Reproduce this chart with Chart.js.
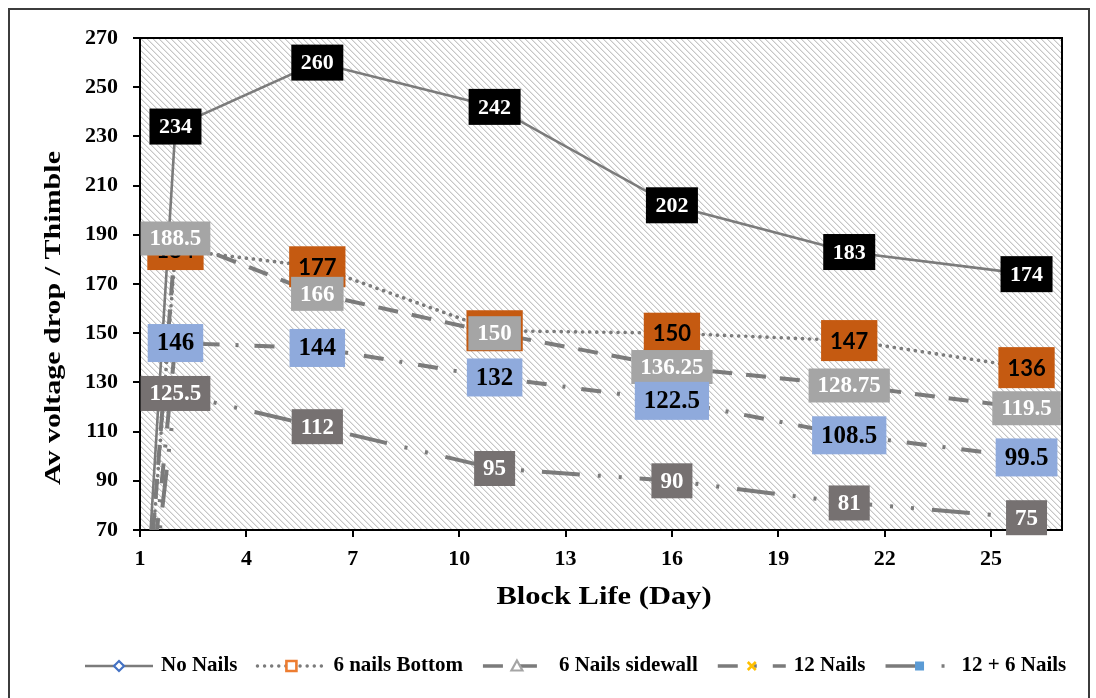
<!DOCTYPE html>
<html>
<head>
<meta charset="utf-8">
<script src="https://cdn.jsdelivr.net/npm/chart.js@4.4.1/dist/chart.umd.min.js"></script>
<style>
  html, body { margin: 0; padding: 0; background: #fff; }
  canvas { display: block; }
</style>
</head>
<body>
<canvas id="chart" width="1096" height="698"></canvas>
<script>
// block life in days, av voltage drop per thimble
const days = [1, 2, 6, 11, 16, 21, 26];
const noNails = [0, 234, 260, 242, 202, 183, 174];
const nailsBottom = [0, 184, 177, 151, 150, 147, 136];
const nailsSidewall = [0, 188.5, 166, 150, 136.25, 128.75, 119.5];
const nails12 = [0, 146, 144, 132, 122.5, 108.5, 99.5];
const nails12and6 = [0, 125.5, 112, 95, 90, 81, 75];
const seriesNames = ['No Nails', '6 nails Bottom', '6 Nails sidewall', '12 Nails', '12 + 6 Nails'];
const xTicks = [1, 4, 7, 10, 13, 16, 19, 22, 25];
const yTicks = [70, 90, 110, 130, 150, 170, 190, 210, 230, 250, 270];

const serif = '"Liberation Serif", "Times New Roman", serif';

// look of each series: line, legend marker, data label box
const looks = [
  {dash: [], width: 2.6, cap: 'butt', marker: 'diamond', mColor: '#4472C4',
   bg: '#000000', fg: '#ffffff', font: 'bold 22px ' + serif, padX: 9.5, h: 36},
  {dash: [0.1, 7], width: 3.6, cap: 'round', marker: 'square', mColor: '#ED7D31',
   bg: '#C55A11', fg: '#000000', font: 'bold 22px Lato, "Open Sans", sans-serif', padX: 9, h: 41},
  {dash: [20, 14], width: 4, cap: 'butt', marker: 'triangle', mColor: '#A5A5A5',
   bg: '#A5A5A5', fg: '#ffffff', font: 'bold 23px ' + serif, padX: 9, h: 34},
  {dash: [20, 16, 3, 16], width: 4, cap: 'butt', marker: 'cross', mColor: '#FFC000',
   bg: '#8FAADC', fg: '#000000', font: 'bold 25px ' + serif, padX: 9, h: 38},
  {dash: [38, 18, 3, 18, 3, 18], width: 4, cap: 'butt', marker: 'filled', mColor: '#5B9BD5',
   bg: '#767171', fg: '#ffffff', font: 'bold 23px ' + serif, padX: 9, h: 35}
];

const allSeries = [noNails, nailsBottom, nailsSidewall, nails12, nails12and6];

function makeHatch() {
  const c = document.createElement('canvas');
  c.width = 6; c.height = 6;
  const g = c.getContext('2d');
  g.fillStyle = '#ffffff';
  g.fillRect(0, 0, 6, 6);
  for (let i = 0; i < 6; i++) {
    g.fillStyle = '#c6c6c6';
    g.fillRect(i, i, 1, 1);
    g.fillStyle = '#e6e6e6';
    g.fillRect((i + 1) % 6, i, 1, 1);
  }
  return c;
}
const hatch = makeHatch();

function drawMarker(ctx, type, x, y, color) {
  ctx.save();
  ctx.strokeStyle = color;
  ctx.fillStyle = '#ffffff';
  ctx.setLineDash([]);
  ctx.lineWidth = 2.2;
  ctx.beginPath();
  if (type === 'diamond') {
    ctx.moveTo(x, y - 5); ctx.lineTo(x + 5, y); ctx.lineTo(x, y + 5); ctx.lineTo(x - 5, y); ctx.closePath();
    ctx.fill(); ctx.stroke();
  } else if (type === 'square') {
    ctx.lineWidth = 2.6;
    ctx.rect(x - 5, y - 5, 10, 10);
    ctx.fill(); ctx.stroke();
  } else if (type === 'triangle') {
    ctx.moveTo(x, y - 5.5); ctx.lineTo(x + 5.5, y + 4.5); ctx.lineTo(x - 5.5, y + 4.5); ctx.closePath();
    ctx.fill(); ctx.stroke();
  } else if (type === 'cross') {
    ctx.lineWidth = 2.6;
    ctx.moveTo(x - 4, y - 4); ctx.lineTo(x + 4, y + 4);
    ctx.moveTo(x + 4, y - 4); ctx.lineTo(x - 4, y + 4);
    ctx.stroke();
  } else {
    ctx.fillStyle = color;
    ctx.fillRect(x - 4.5, y - 4.5, 9, 9);
  }
  ctx.restore();
}

function stretchedText(ctx, text, x, y, font, sx, rot) {
  ctx.save();
  ctx.translate(x, y);
  ctx.rotate(rot);
  ctx.scale(sx, 1);
  ctx.font = font;
  ctx.fillStyle = '#000';
  ctx.textAlign = 'center';
  ctx.textBaseline = 'middle';
  ctx.fillText(text, 0, 0);
  ctx.restore();
}

const decor = {
  id: 'decor',
  beforeDraw(chart) {
    const {ctx, chartArea: a} = chart;
    ctx.save();
    ctx.fillStyle = ctx.createPattern(hatch, 'repeat');
    ctx.fillRect(a.left, a.top, a.right - a.left, a.bottom - a.top);
    ctx.strokeStyle = '#3c3c3c';
    ctx.lineWidth = 2;
    ctx.strokeRect(9, 9, 1080, 720);
    ctx.restore();
  },
  afterDatasetsDraw(chart) {
    const {ctx, chartArea: a} = chart;
    ctx.save();
    ctx.strokeStyle = '#000';
    ctx.lineWidth = 2;
    ctx.beginPath();
    ctx.moveTo(a.left, a.top); ctx.lineTo(a.right, a.top); ctx.lineTo(a.right, a.bottom);
    ctx.stroke();
    // value boxes centred on the points
    chart.data.datasets.forEach((ds, i) => {
      const lk = looks[i];
      const meta = chart.getDatasetMeta(i);
      meta.data.forEach((pt, j) => {
        if (pt.y > a.bottom || pt.y < a.top) return;
        const txt = String(ds.data[j].y);
        ctx.font = lk.font;
        const w = ctx.measureText(txt).width + 2 * lk.padX;
        ctx.fillStyle = lk.bg;
        ctx.fillRect(pt.x - w / 2, pt.y - lk.h / 2, w, lk.h);
        ctx.fillStyle = lk.fg;
        ctx.textAlign = 'center';
        ctx.textBaseline = 'middle';
        ctx.fillText(txt, pt.x, pt.y + 1);
      });
    });
    ctx.restore();
  },
  afterDraw(chart) {
    const {ctx} = chart;
    stretchedText(ctx, 'Block Life (Day)', 604, 598, 'bold 25px ' + serif, 1.22, 0);
    stretchedText(ctx, 'Av voltage drop / Thimble', 54, 318, 'bold 24px ' + serif, 1.25, -Math.PI / 2);

    // legend row
    const y = 666, sw = 68;
    let x = 85;
    ctx.save();
    chart.data.datasets.forEach((ds, i) => {
      const lk = looks[i];
      ctx.save();
      ctx.strokeStyle = ds.borderColor;
      ctx.lineWidth = Math.min(ds.borderWidth, 3.4);
      ctx.setLineDash(lk.dash);
      ctx.lineCap = lk.cap;
      ctx.beginPath();
      ctx.moveTo(x, y); ctx.lineTo(x + sw, y);
      ctx.stroke();
      ctx.restore();
      drawMarker(ctx, lk.marker, x + sw / 2, y, lk.mColor);
      x += sw + 8;
      ctx.font = 'bold 21px ' + serif;
      ctx.fillStyle = '#000';
      ctx.textAlign = 'left';
      ctx.textBaseline = 'middle';
      ctx.fillText(ds.label, x, y);
      x += ctx.measureText(ds.label).width + 20;
    });
    ctx.restore();
  }
};

const datasets = allSeries.map((vals, i) => ({
  label: seriesNames[i],
  data: days.map((d, j) => ({x: d, y: vals[j]})),
  borderColor: '#7b7b7b',
  borderWidth: looks[i].width,
  borderDash: looks[i].dash,
  borderCapStyle: looks[i].cap,
  pointRadius: 0,
  fill: false,
  tension: 0
}));

const tickFont = {family: 'Liberation Serif', size: 22, weight: 'bold'};

new Chart(document.getElementById('chart').getContext('2d'), {
  type: 'line',
  data: {datasets: datasets},
  options: {
    responsive: false,
    animation: false,
    layout: {padding: {top: 38, right: 34, left: 0, bottom: 0}},
    plugins: {legend: {display: false}, tooltip: {enabled: false}},
    scales: {
      x: {
        type: 'linear', min: 1, max: 27,
        afterBuildTicks: s => { s.ticks = xTicks.map(v => ({value: v})); },
        afterFit: s => { s.height = 168; },
        grid: {drawOnChartArea: false, drawTicks: true, tickLength: 7, color: '#000', lineWidth: 2},
        border: {display: true, color: '#000', width: 2},
        ticks: {color: '#000', font: tickFont, padding: 9, maxRotation: 0, autoSkip: false}
      },
      y: {
        type: 'linear', min: 70, max: 270,
        afterBuildTicks: s => { s.ticks = yTicks.map(v => ({value: v})); },
        afterFit: s => { s.width = 140; },
        grid: {drawOnChartArea: false, drawTicks: true, tickLength: 7, color: '#000', lineWidth: 2},
        border: {display: true, color: '#000', width: 2},
        ticks: {color: '#000', font: tickFont, padding: 15, autoSkip: false}
      }
    }
  },
  plugins: [decor]
});
</script>
</body>
</html>
